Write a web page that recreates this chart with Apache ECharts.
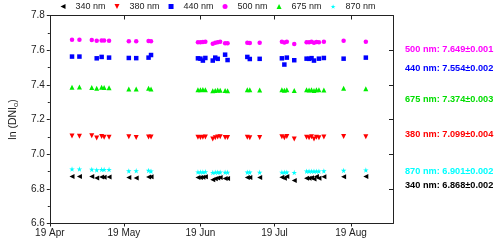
<!DOCTYPE html>
<html>
<head>
<meta charset="utf-8">
<script src="https://cdn.jsdelivr.net/npm/echarts@6/dist/echarts.min.js"></script>
<style>html,body{margin:0;padding:0;background:#fff}#c{width:500px;height:244px}</style>
</head>
<body>
<div id="c"></div>
<script>
// Observation dates, as days since 19 Apr
const days = [9,12,17,19,21,22,24,32,35,40,41,60,61,62,63,66,67,68,69,71,72,80,81,85,94,95,96,99,104,105,106,107,108,109,111,119,128];

const v340 = [6.871,6.871,6.871,6.862,6.868,6.867,6.868,6.866,6.862,6.868,6.869,
  6.866,6.866,6.867,6.870,6.852,6.858,6.862,6.866,6.860,6.860,6.866,6.866,6.866,
  6.867,6.861,6.871,6.848,6.861,6.861,6.864,6.857,6.871,6.861,6.869,6.869,6.871];
const v380 = [7.105,7.104,7.106,7.093,7.102,7.097,7.098,7.101,7.096,7.099,7.099,
  7.097,7.096,7.097,7.099,7.088,7.095,7.099,7.100,7.096,7.096,7.098,7.095,7.096,
  7.100,7.094,7.102,7.088,7.097,7.094,7.100,7.087,7.098,7.094,7.099,7.102,7.100];
const v440 = [7.563,7.563,null,7.553,7.561,null,7.557,7.555,7.554,7.557,7.572,
  7.553,7.551,7.540,7.555,7.540,7.557,7.550,null,7.574,7.543,7.561,7.549,7.550,
  7.553,7.517,7.557,7.542,7.551,7.550,7.554,7.540,null,7.551,7.555,7.551,7.557];
const v500 = [7.660,7.660,7.659,7.654,7.656,7.656,7.655,7.652,7.651,7.653,7.652,
  7.646,7.646,7.647,7.648,7.637,7.643,7.645,7.648,7.640,7.640,7.643,7.642,7.643,
  7.649,7.644,7.649,7.636,7.646,7.646,7.648,7.643,7.647,7.645,7.648,7.655,7.649];
const v675 = [7.386,7.387,7.385,7.380,7.386,7.385,7.383,7.376,7.376,7.381,7.376,
  7.372,7.372,7.373,7.372,7.366,7.368,7.370,7.369,7.367,7.366,7.371,7.371,7.370,
  7.371,7.369,7.372,7.367,7.372,7.370,7.371,7.367,7.372,7.371,7.370,7.380,7.377];
const v870 = [6.914,6.914,6.912,6.909,6.911,6.911,6.911,6.903,6.904,6.906,6.902,
  6.897,6.897,6.897,6.898,6.894,6.895,6.896,6.896,6.895,6.895,6.896,6.896,6.895,
  6.895,6.895,6.896,6.894,6.902,6.902,6.901,6.902,6.901,6.902,6.903,6.906,6.908];

const seriesNames = ['340 nm','380 nm','440 nm','500 nm','675 nm','870 nm'];
const seriesColors = ['#000000','#ff0000','#0000ff','#ff00ff','#00ee00','#00ffff'];
const seriesValues = [v340, v380, v440, v500, v675, v870];

const xTickDays = [0, 30, 61, 91, 122];
const xTickLabels = ['19 Apr','19 May','19 Jun','19 Jul','19 Aug'];

const notes = [
  {text: '500 nm: 7.649\u00b10.001', color: '#ff00ff', y: 50.5},
  {text: '440 nm: 7.554\u00b10.002', color: '#0000ff', y: 69.5},
  {text: '675 nm: 7.374\u00b10.003', color: '#00dd00', y: 101},
  {text: '380 nm: 7.099\u00b10.004', color: '#ff0000', y: 136},
  {text: '870 nm: 6.901\u00b10.002', color: '#00ffff', y: 172.5},
  {text: '340 nm: 6.868\u00b10.002', color: '#000000', y: 186.5}
];

const starPath = 'path://M50,0 L61,35 L98,35 L68,57 L79,91 L50,70 L21,91 L32,57 L2,35 L39,35 Z';
const leftTri = 'path://M0,50 L100,0 L100,100 Z';
const downTri = 'path://M0,0 L100,0 L50,100 Z';
const upTri = 'path://M50,0 L100,100 L0,100 Z';
const symbols = ['triangle','triangle','rect','circle','triangle', starPath];
const legendIcons = [leftTri, downTri, 'rect', 'circle', upTri, starPath];
const rotations = [90, 180, 0, 0, 0, 0];
const sizes = [5, 5, 4.5, 4.5, 5, 5.5];

const FONT = 'Liberation Sans, Arial, sans-serif';
const chart = echarts.init(document.getElementById('c'), null, {renderer: 'canvas'});

const series = seriesNames.map((name, i) => ({
  name: name,
  type: 'scatter',
  xAxisIndex: 0, yAxisIndex: 0,
  symbol: symbols[i],
  symbolRotate: rotations[i],
  symbolSize: sizes[i],
  itemStyle: {color: seriesColors[i], opacity: 1},
  emphasis: {disabled: true},
  data: days.map((d, k) => [d, seriesValues[i][k]]).filter(p => p[1] !== null)
}));

const axisLine = {show: true, onZero: false, lineStyle: {color: '#222', width: 1}};

chart.setOption({
  animation: false,
  textStyle: {fontFamily: FONT},
  grid: {left: 42, right: 107, top: 15.5, bottom: 20.5, containLabel: false},
  legend: {
    left: 60.5, top: 2, padding: 0,
    itemWidth: 5, itemHeight: 5, itemGap: 9,
    selectedMode: false,
    symbolRotate: 0,
    textStyle: {fontSize: 9, color: '#222', fontFamily: FONT, padding: [0,0,0,5]},
    data: seriesNames.map((n, i) => ({name: n, icon: legendIcons[i]}))
  },
  xAxis: [{
    type: 'value', min: 0, max: 139, position: 'bottom',
    axisLine: axisLine,
    splitLine: {show: false},
    axisTick: {show: true, length: 3, customValues: xTickDays, lineStyle: {color: '#222'}},
    axisLabel: {show: true, margin: 5, fontSize: 10, color: '#222', customValues: xTickDays,
      formatter: v => xTickLabels[xTickDays.indexOf(v)] || ''}
  }, {
    type: 'value', min: 0, max: 139, position: 'top',
    axisLine: axisLine,
    splitLine: {show: false},
    axisTick: {show: true, inside: true, length: 4, customValues: xTickDays, lineStyle: {color: '#222'}},
    axisLabel: {show: false}
  }],
  yAxis: [{
    type: 'value', min: 6.6, max: 7.8, interval: 0.2, position: 'left',
    name: '{a|ln (DNI}{b|o}{a|)}',
    nameLocation: 'middle', nameGap: 28, nameRotate: 90,
    nameTextStyle: {rich: {a: {fontSize: 10.5, color: '#222', fontFamily: FONT}, b: {fontSize: 7.5, color: '#222', fontFamily: FONT, verticalAlign: 'bottom', padding: [5,0,0,0]}}},
    axisLine: axisLine,
    splitLine: {show: false},
    axisTick: {show: true, length: 3, lineStyle: {color: '#222'}},
    minorTick: {show: true, splitNumber: 2, length: 2, lineStyle: {color: '#222'}},
    axisLabel: {margin: 5, fontSize: 10, color: '#222', formatter: v => v.toFixed(1)}
  }, {
    type: 'value', min: 6.6, max: 7.8, interval: 0.2, position: 'right',
    axisLine: axisLine,
    splitLine: {show: false},
    axisTick: {show: true, inside: true, length: 4, lineStyle: {color: '#222'}},
    axisLabel: {show: false}
  }],
  graphic: notes.map(n => ({
    type: 'text', left: 405, top: n.y - 6,
    style: {text: n.text, fill: n.color, font: 'bold 9.2px ' + FONT}
  })),
  series: series
});
</script>
</body>
</html>
